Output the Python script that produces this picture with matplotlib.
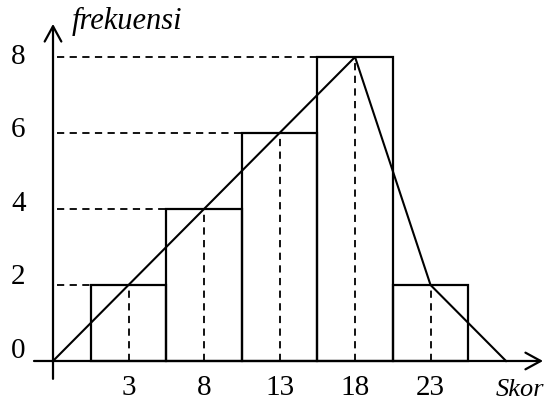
import matplotlib.pyplot as plt

# histogram data: class midpoints and frequencies
skor = [3, 8, 13, 18, 23]
frekuensi = [2, 4, 6, 8, 2]
lebar = 5
y_ticks = [0, 2, 4, 6, 8]

# polygon closes on the empty classes either side
poly_x = [skor[0] - lebar] + skor + [skor[-1] + lebar]
poly_y = [0] + frekuensi + [0]

plt.rcParams['font.family'] = ['Liberation Serif', 'DejaVu Serif']

fig = plt.figure(figsize=(5.45, 4.02), dpi=100)
ax = fig.add_axes([0, 0, 1, 1])
ax.set_xlim(-5.51, 30.58)
ax.set_ylim(-1.053, 9.526)
ax.axis('off')

x0 = poly_x[0]  # y axis position
px = 1 / 38     # one pixel in y data units

# axes with open arrowheads
arrow = dict(arrowstyle='->,head_length=1.1,head_width=0.6',
             lw=1.6, color='black', shrinkA=0, shrinkB=0)
ax.annotate('', xy=(x0, 8.87), xytext=(x0, -0.47), arrowprops=arrow)
ax.annotate('', xy=(30.45, 0), xytext=(-3.26, 0), arrowprops=arrow)

# bars
ax.bar(skor, frekuensi, width=lebar, fill=False, edgecolor='black',
       linewidth=1.6, zorder=3)

# dashed guides: down to the score axis, across to the frequency axis
seen = set()
for xs, f in zip(skor, frekuensi):
    ax.plot([xs, xs], [0, f], color='black', ls=(0, (4, 3)), lw=1.3)
    if f not in seen:
        ax.plot([x0 + 0.25, xs - lebar / 2], [f, f], color='black',
                ls=(0, (4, 3)), lw=1.3)
        seen.add(f)

# frequency polygon
ax.plot(poly_x, poly_y, color='black', lw=1.5, zorder=4)

# tick labels
for xs in skor:
    ax.text(xs, -26 * px, str(xs), ha='center', va='center', fontsize=21)
for yt in y_ticks:
    ax.text(-4.3, yt + (1 + 1.25 * (8 - yt)) * px, str(yt),
            ha='center', va='center', fontsize=21)

ax.text(-0.75, 333 * px, 'frekuensi', style='italic', fontsize=22,
        ha='left', va='baseline')
ax.text(30.5, -34 * px, 'Skor', style='italic', fontsize=19,
        ha='right', va='baseline')

fig.savefig('out.png', dpi=100)
